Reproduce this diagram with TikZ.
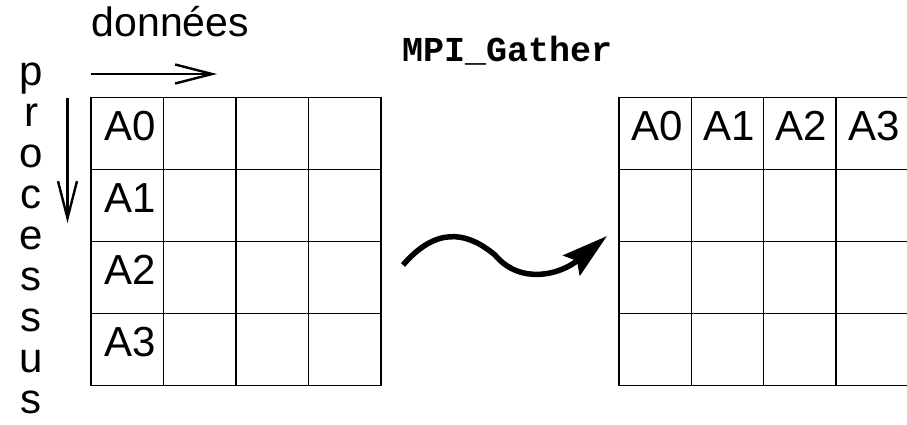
\documentclass[tikz,border=0pt]{standalone}
\usepackage{fontspec}
\setmainfont{Liberation Sans}
\setmonofont{Liberation Mono}
\usetikzlibrary{arrows.meta}
\tikzset{
  cell/.style={draw=black, line width=1.3pt, minimum width=72.5pt, minimum height=72pt, inner sep=0pt, outer sep=0pt, anchor=north west},
  rcell/.style={cell, minimum width=72.3pt},
  lbl/.style={anchor=base west, inner sep=0pt, font=\fontsize{42}{46}\selectfont},
  vlet/.style={anchor=base, inner sep=0pt, font=\fontsize{42}{44}\selectfont},
  thinarrow/.style={line width=2.4pt, -{Straight Barb[length=37pt, width=19pt, line width=2.4pt]}},
  bigarrow/.style={line width=5.5pt, -{Stealth[length=46pt, width=26pt, inset=7pt]}},
}
\begin{document}
\begin{tikzpicture}[x=1pt, y=-1pt]
\useasboundingbox (0,0) rectangle (907,424);
\clip (0,0) rectangle (907,424);
% left grid
\foreach \r in {0,1,2,3} {
  \foreach \c in {0,1,2,3} {
    \node[cell] (L\r\c) at (91+72.5*\c, 97.5+72*\r) {};
  }
}
% right grid
\foreach \r in {0,1,2,3} {
  \foreach \c in {0,1,2,3} {
    \node[rcell] (R\r\c) at (619+72.3*\c, 97.5+72*\r) {};
  }
}
% labels left grid
\foreach \r in {0,1,2,3} {
  \node[lbl] (la\r) at (104.5, 97.5+72*\r+42.5) {A\r};
}
% labels right grid
\foreach \c in {0,1,2,3} {
  \node[lbl] (ra\c) at (631+72.3*\c, 97.5+42.5) {A\c};
}
% titles
\node[anchor=base west, inner sep=0pt, font=\fontsize{41}{45}\selectfont] (donnees) at (91.5, 36) {données};
\node[anchor=base west, inner sep=0pt, font=\ttfamily\bfseries\fontsize{35}{38}\selectfont] (mpi) at (402, 61) {MPI\_Gather};
% processus vertical
\foreach \l [count=\i] in {p,r,o,c,e,s,s,u,s} {
  \node[vlet] (v\i) at (31, 85+41*\i-41) {\l};
}
% arrows
\coordinate (h1) at (91,74);
\coordinate (h2) at (217,74);
\coordinate (d1) at (67.5,98);
\coordinate (d2) at (67.5,223);
\draw[thinarrow] (h1) -- (h2);
\draw[thinarrow] (d1) -- (d2);
\coordinate (c1) at (403,265);
\coordinate (c2) at (495,255);
\coordinate (c3) at (607,236);
\draw[bigarrow] (c1) .. controls (435,228) and (465,230) .. (c2) .. controls (520,285) and (560,275) .. (c3);
\end{tikzpicture}
\end{document}
